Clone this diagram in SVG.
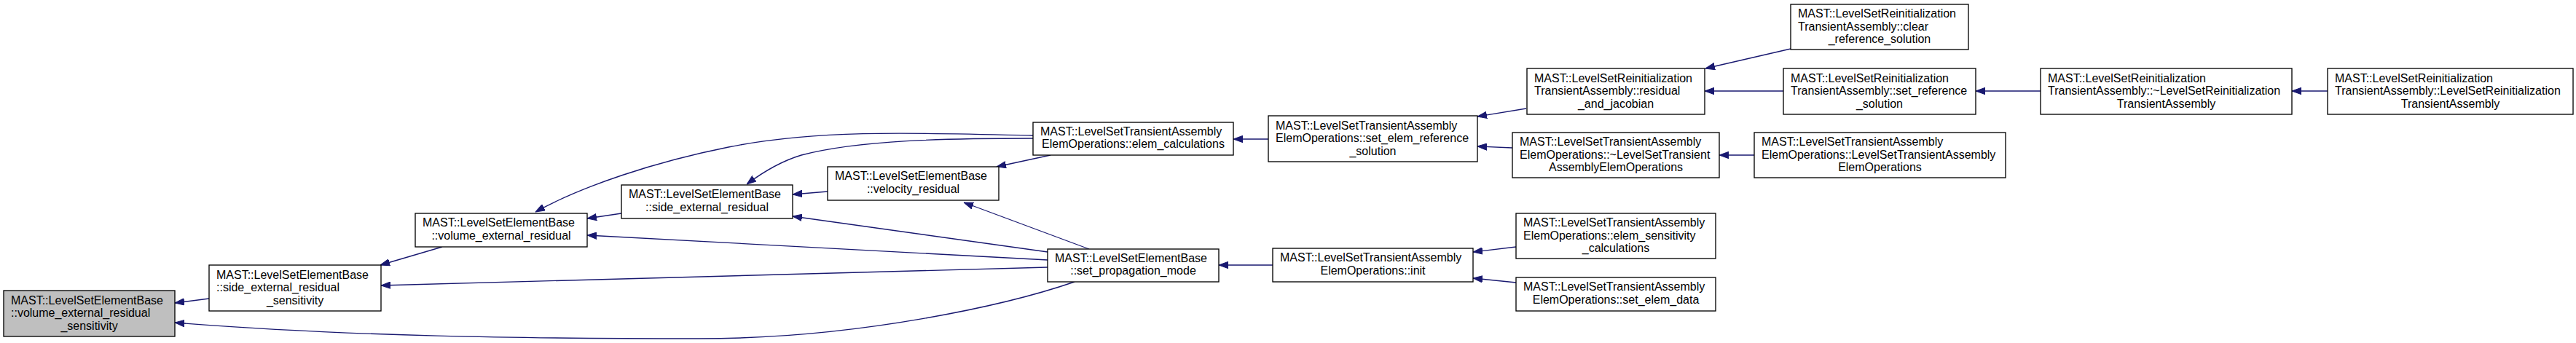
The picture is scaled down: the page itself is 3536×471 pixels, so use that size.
<svg xmlns="http://www.w3.org/2000/svg" width="3536" height="471" viewBox="0 0 3536 471">
<defs>
<style>
.n rect{fill:#ffffff;stroke:#000000;stroke-width:1.33}
.n.root rect{fill:#bfbfbf}
.n text{font-family:"Liberation Sans",Arial,sans-serif;font-size:16px;fill:#000000}
.n text.c{text-anchor:middle}
.e path{fill:none;stroke:#191970;stroke-width:1.33;marker-end:url(#ah)}
</style>
<marker id="ah" viewBox="0 0 13 10" refX="13" refY="5" markerWidth="13" markerHeight="10" markerUnits="userSpaceOnUse" orient="auto">
<path d="M0,0.3 L13,5 L0,9.7 z" fill="#191970" stroke="#191970" stroke-width="1"/>
</marker>
</defs>
<rect x="0" y="0" width="3536" height="471" fill="#ffffff"/>
<g id="edges" class="e">
<path d="M287,410 L240,416"/>
<path d="M1475,387 C1385,418 1180,465 960,465 C720,465 480,462 240,443"/>
<path d="M607,339 L522,364"/>
<path d="M1438,367 L523,392"/>
<path d="M853,293 L806,300"/>
<path d="M1438,357 L806,323"/>
<path d="M1418,186 C1250,182 1120,178 1000,202 C900,222 800,255 735,291"/>
<path d="M1136,263 L1088,267"/>
<path d="M1438,346 L1088,297"/>
<path d="M1418,190 C1300,190 1180,192 1100,213 C1070,222 1045,238 1025,253"/>
<path d="M1442,213 L1368,229"/>
<path d="M1495,342 L1323,278"/>
<path d="M1741,191 L1693,191"/>
<path d="M1747,364 L1673,364"/>
<path d="M2095,149 L2028,160"/>
<path d="M2076,203 L2028,201"/>
<path d="M2081,339 L2022,346"/>
<path d="M2081,388 L2022,382"/>
<path d="M2458,67 L2341,94"/>
<path d="M2448,125 L2340,125"/>
<path d="M2408,213 L2360,213"/>
<path d="M2801,125 L2712,125"/>
<path d="M3195,125 L3146,125"/>
</g>
<g id="nA" class="n root"><rect x="5" y="399" width="235" height="63"/><text x="15" y="417.5">MAST::LevelSetElementBase</text><text x="15" y="435">::volume_external_residual</text><text class="c" x="122.5" y="452.5">_sensitivity</text></g>
<g id="nB" class="n"><rect x="287" y="364" width="236" height="63"/><text x="297" y="382.5">MAST::LevelSetElementBase</text><text x="297" y="400">::side_external_residual</text><text class="c" x="405" y="417.5">_sensitivity</text></g>
<g id="nC" class="n"><rect x="570" y="293" width="236" height="46"/><text x="580" y="311">MAST::LevelSetElementBase</text><text class="c" x="688" y="328.5">::volume_external_residual</text></g>
<g id="nD" class="n"><rect x="853" y="254" width="235" height="46"/><text x="863" y="272">MAST::LevelSetElementBase</text><text class="c" x="970.5" y="289.5">::side_external_residual</text></g>
<g id="nE" class="n"><rect x="1136" y="229" width="235" height="46"/><text x="1146" y="247">MAST::LevelSetElementBase</text><text class="c" x="1253.5" y="264.5">::velocity_residual</text></g>
<g id="nF" class="n"><rect x="1418" y="168" width="275" height="45"/><text x="1428" y="185.5">MAST::LevelSetTransientAssembly</text><text class="c" x="1555.5" y="203">ElemOperations::elem_calculations</text></g>
<g id="nG" class="n"><rect x="1438" y="342" width="235" height="45"/><text x="1448" y="359.5">MAST::LevelSetElementBase</text><text class="c" x="1555.5" y="377">::set_propagation_mode</text></g>
<g id="nH" class="n"><rect x="1741" y="159" width="287" height="63"/><text x="1751" y="177.5">MAST::LevelSetTransientAssembly</text><text x="1751" y="195">ElemOperations::set_elem_reference</text><text class="c" x="1884.5" y="212.5">_solution</text></g>
<g id="nI" class="n"><rect x="1747" y="341" width="275" height="46"/><text x="1757" y="359">MAST::LevelSetTransientAssembly</text><text class="c" x="1884.5" y="376.5">ElemOperations::init</text></g>
<g id="nJ" class="n"><rect x="2096" y="94" width="244" height="63"/><text x="2106" y="112.5">MAST::LevelSetReinitialization</text><text x="2106" y="130">TransientAssembly::residual</text><text class="c" x="2218" y="147.5">_and_jacobian</text></g>
<g id="nK" class="n"><rect x="2076" y="182" width="284" height="62"/><text x="2086" y="200">MAST::LevelSetTransientAssembly</text><text x="2086" y="217.5">ElemOperations::~LevelSetTransient</text><text class="c" x="2218" y="235">AssemblyElemOperations</text></g>
<g id="nL" class="n"><rect x="2081" y="293" width="274" height="62"/><text x="2091" y="311">MAST::LevelSetTransientAssembly</text><text x="2091" y="328.5">ElemOperations::elem_sensitivity</text><text class="c" x="2218" y="346">_calculations</text></g>
<g id="nM" class="n"><rect x="2081" y="381" width="274" height="46"/><text x="2091" y="399">MAST::LevelSetTransientAssembly</text><text class="c" x="2218" y="416.5">ElemOperations::set_elem_data</text></g>
<g id="nN" class="n"><rect x="2458" y="6" width="244" height="62"/><text x="2468" y="24">MAST::LevelSetReinitialization</text><text x="2468" y="41.5">TransientAssembly::clear</text><text class="c" x="2580" y="59">_reference_solution</text></g>
<g id="nO" class="n"><rect x="2448" y="94" width="264" height="63"/><text x="2458" y="112.5">MAST::LevelSetReinitialization</text><text x="2458" y="130">TransientAssembly::set_reference</text><text class="c" x="2580" y="147.5">_solution</text></g>
<g id="nP" class="n"><rect x="2408" y="182" width="345" height="62"/><text x="2418" y="200">MAST::LevelSetTransientAssembly</text><text x="2418" y="217.5">ElemOperations::LevelSetTransientAssembly</text><text class="c" x="2580.5" y="235">ElemOperations</text></g>
<g id="nQ" class="n"><rect x="2801" y="94" width="345" height="63"/><text x="2811" y="112.5">MAST::LevelSetReinitialization</text><text x="2811" y="130">TransientAssembly::~LevelSetReinitialization</text><text class="c" x="2973.5" y="147.5">TransientAssembly</text></g>
<g id="nR" class="n"><rect x="3195" y="94" width="337" height="63"/><text x="3205" y="112.5">MAST::LevelSetReinitialization</text><text x="3205" y="130">TransientAssembly::LevelSetReinitialization</text><text class="c" x="3363.5" y="147.5">TransientAssembly</text></g>
</svg>
